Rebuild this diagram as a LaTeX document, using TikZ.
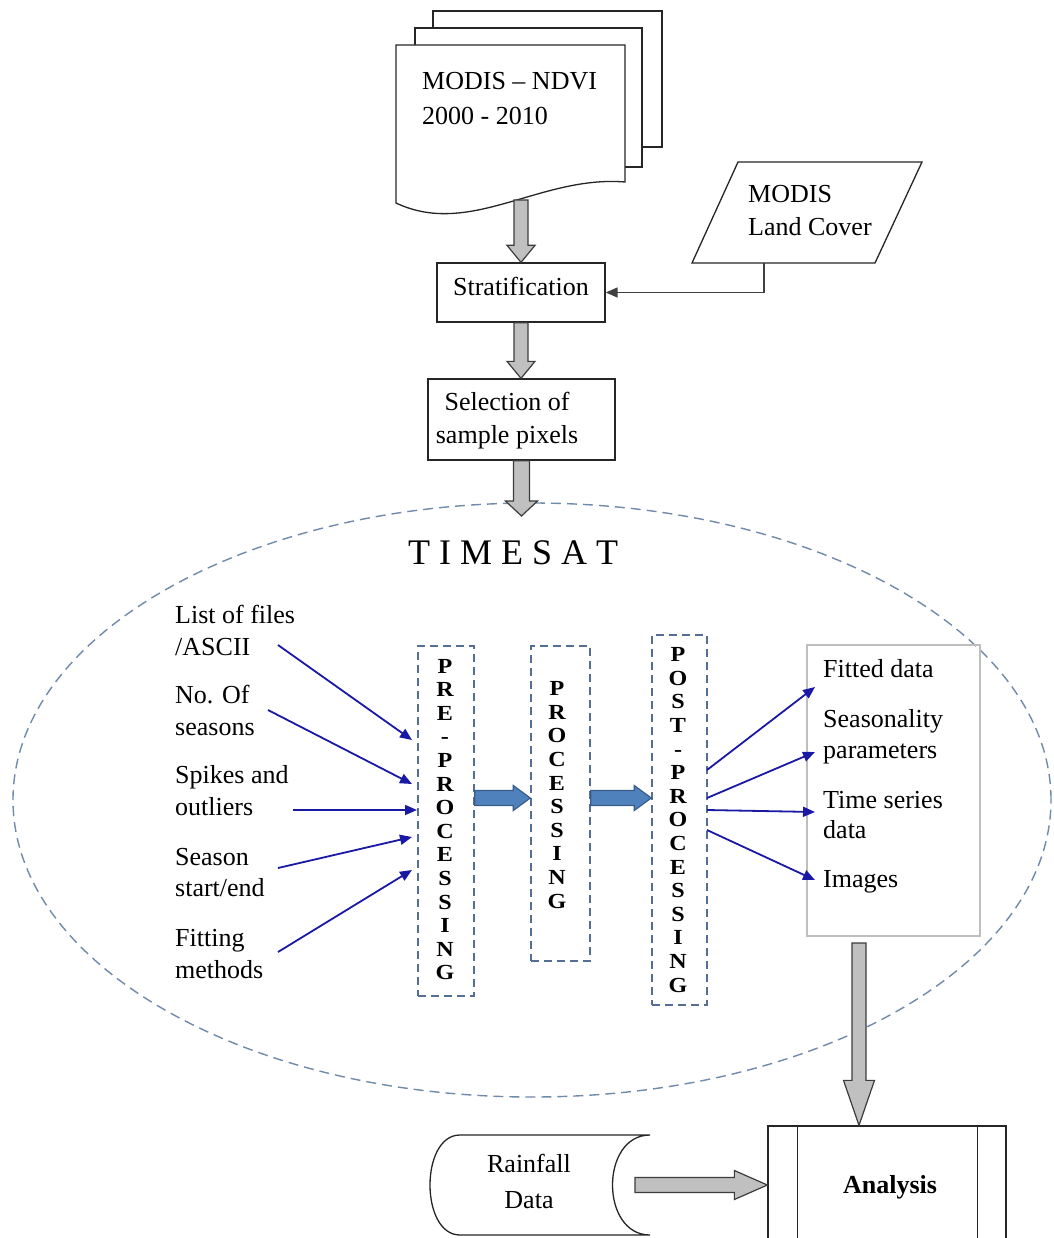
\documentclass[tikz,border=0pt]{standalone}
\usepackage{fontspec}
\setmainfont{Liberation Serif}
\newfontfamily\vfont[FakeStretch=1.12]{Liberation Serif}
\usetikzlibrary{arrows.meta,calc}
\definecolor{dashc}{RGB}{84,110,150}
\definecolor{ellc}{RGB}{112,138,172}
\definecolor{inblue}{RGB}{25,25,165}
\definecolor{bfill}{RGB}{79,129,189}
\definecolor{bdraw}{RGB}{56,93,138}
\definecolor{gfill}{RGB}{192,192,192}
\definecolor{gdraw}{RGB}{60,60,60}
\definecolor{obox}{RGB}{190,190,190}
\tikzset{
  txt/.style={inner sep=0pt, anchor=base west, font=\fontsize{26}{31}\selectfont},
  txtc/.style={inner sep=0pt, anchor=base, font=\fontsize{26}{31}\selectfont},
  vert/.style={inner sep=0pt, align=center, font=\vfont\fontsize{21.5}{23.6}\selectfont\bfseries},
  dbox/.style={draw=dashc, line width=1.5pt, dash pattern=on 8pt off 5pt, inner sep=0pt},
  boxst/.style={draw=black!85, line width=1.3pt, inner sep=0pt},
  docline/.style={draw=black!85, line width=1.3pt, fill=white},
  conn/.style={draw=black!75, line width=1.4pt, -{Triangle[length=12pt,width=10pt]}},
  inarrow/.style={draw=inblue, line width=1.8pt, -{Triangle[length=12pt,width=10pt]}},
  gblock/.style={draw=gdraw, fill=gfill, line width=1.2pt},
  bblock/.style={draw=bdraw, fill=bfill, line width=1.2pt},
  gdown/.style n args={3}{to path={let \p1=(\tikztostart), \p2=(\tikztotarget) in
    (\x1-#1,\y1) -- (\x1-#1,\y2+#3) -- (\x1-#2,\y2+#3) -- (\x1,\y2) -- (\x1+#2,\y2+#3) -- (\x1+#1,\y2+#3) -- (\x1+#1,\y1) -- cycle}},
  gright/.style n args={3}{to path={let \p1=(\tikztostart), \p2=(\tikztotarget) in
    (\x1,\y1+#1) -- (\x2-#3,\y1+#1) -- (\x2-#3,\y1+#2) -- (\x2,\y1) -- (\x2-#3,\y1-#2) -- (\x2-#3,\y1-#1) -- (\x1,\y1-#1) -- cycle}},
}
\begin{document}
\begin{tikzpicture}[x=1pt,y=-1pt,line join=miter]
\clip (0,0) rectangle (1053,1238);
\fill[white] (0,0) rectangle (1053,1238);

% TIMESAT ellipse
\draw[draw=ellc, line width=1.4pt, dash pattern=on 10pt off 6pt] (532,800) ellipse [x radius=519pt, y radius=297pt];

% MODIS-NDVI document stack
\draw[docline] (433,11) rectangle (662,147);
\draw[docline] (415,28) rectangle (642,167);
\draw[docline] (396,45) -- (625,45) -- (625,182) .. controls (540,175) and (470,238) .. (396,203) -- cycle;
\coordinate (docbot) at (521,200);
\node[txt] (ndvi1) at (422,90) {MODIS – NDVI};
\node[txt] (ndvi2) at (422,125) {2000 - 2010};

% MODIS Land Cover
\draw[docline] (738,162) -- (922,162) -- (875,263) -- (692,263) -- cycle;
\node[txt] (lc1) at (748,203) {MODIS};
\node[txt] (lc2) at (748,236) {Land Cover};
\coordinate (lcb) at (764,263);

% Stratification
\node[boxst, minimum width=168pt, minimum height=59pt] (strat) at (521,292.5) {};
\node[txtc] (stratlbl) at (521,295) {Stratification};
\draw[conn] (lcb) |- (strat.east);

% Selection
\node[boxst, minimum width=187pt, minimum height=81pt] (sel) at (521.5,419.5) {};
\node[txtc] (sel1) at (507,410) {Selection of};
\node[txtc] (sel2) at (507,443) {sample pixels};

% gray arrows at top
\draw[gblock, gdown={7pt}{14pt}{17pt}] (docbot) to (strat.north);
\draw[gblock, gdown={7pt}{14pt}{17pt}] (strat.south) to (sel.north);
\coordinate (tstop) at (521.5,516);
\draw[gblock, gdown={8pt}{16pt}{15pt}] (sel.south) to (tstop);

% TIMESAT title
\node[inner sep=0pt, anchor=base west, font=\fontsize{36}{40}\selectfont] (timesat) at (408,564) {T I M E S A T};

% input labels
\node[txt] (l1a) at (175,623) {List of files};
\node[txt] (l1b) at (175,655) {/ASCII};
\node[txt] (l2a) at (175,703) {No. Of};
\node[txt] (l2b) at (175,735) {seasons};
\node[txt] (l3a) at (175,783) {Spikes and};
\node[txt] (l3b) at (175,815) {outliers};
\node[txt] (l4a) at (175,865) {Season};
\node[txt] (l4b) at (175,896) {start/end};
\node[txt] (l5a) at (175,946) {Fitting};
\node[txt] (l5b) at (175,978) {methods};

% processing boxes
\node[dbox, minimum width=56pt, minimum height=350pt] (pre) at (446,821) {};
\node[vert] (pretxt) at (445,819.5) {P\\R\\E\\-\\P\\R\\O\\C\\E\\S\\S\\I\\N\\G};
\node[dbox, minimum width=59pt, minimum height=315pt] (proc) at (560.5,803.5) {};
\node[vert] (proctxt) at (557,795) {P\\R\\O\\C\\E\\S\\S\\I\\N\\G};
\node[dbox, minimum width=55pt, minimum height=370pt] (post) at (679.5,820) {};
\node[vert] (posttxt) at (678,820) {P\\O\\S\\T\\-\\P\\R\\O\\C\\E\\S\\S\\I\\N\\G};

% input arrows
\coordinate (i1) at (278,645); \coordinate (e1) at (412,740);
\coordinate (i2) at (268,710); \coordinate (e2) at (412,784);
\coordinate (i3) at (293,810); \coordinate (e3) at (417,810);
\coordinate (i4) at (278,868); \coordinate (e4) at (412,837);
\coordinate (i5) at (278,952); \coordinate (e5) at (412,870);
\foreach \k in {1,...,5} \draw[inarrow] (i\k) -- (e\k);

% blue block arrows
\coordinate (row) at (0,798);
\draw[bblock, gright={7.5pt}{12.5pt}{17pt}] (pre.east |- row) to (proc.west |- row);
\draw[bblock, gright={7.5pt}{12.5pt}{17pt}] (proc.east |- row) to (post.west |- row);

% outputs box
\node[draw=obox, line width=1.2pt, minimum width=173pt, minimum height=291pt, inner sep=0pt] (outbox) at (893.5,790.5) {};
\node[txt] (o1) at (823,677) {Fitted data};
\node[txt] (o2a) at (823,727) {Seasonality};
\node[txt] (o2b) at (823,758) {parameters};
\node[txt] (o3a) at (823,808) {Time series};
\node[txt] (o3b) at (823,838) {data};
\node[txt] (o4) at (823,887) {Images};

% output arrows
\coordinate (p1) at (707,770); \coordinate (f1) at (815,687);
\coordinate (p2) at (707,798); \coordinate (f2) at (815,752);
\coordinate (p3) at (707,810); \coordinate (f3) at (815,812);
\coordinate (p4) at (707,830); \coordinate (f4) at (815,880);
\foreach \k in {1,...,4} \draw[inarrow] (p\k) -- (f\k);

% Analysis
\node[boxst, minimum width=238pt, minimum height=130pt] (analysis) at (887,1191) {};
\draw[draw=black!85, line width=1.3pt] ([xshift=30pt]analysis.north west) -- ([xshift=30pt]analysis.south west);
\draw[draw=black!85, line width=1.3pt] ([xshift=-29pt]analysis.north east) -- ([xshift=-29pt]analysis.south east);
\node[inner sep=0pt, anchor=base, font=\fontsize{26}{31}\selectfont\bfseries] (anlbl) at (890,1193) {Analysis};

\coordinate (ax) at (859,0);
\coordinate (obs) at (859,943);
\draw[gblock, gdown={7pt}{15.5pt}{45pt}] (obs) to (analysis.north -| ax);

% Rainfall data
\draw[docline] (650,1135) -- (460,1135) .. controls (420,1135) and (420,1235) .. (460,1235) -- (650,1235) .. controls (600,1235) and (600,1135) .. (650,1135) -- cycle;
\node[txtc] (rf1) at (529,1172) {Rainfall};
\node[txtc] (rf2) at (529,1208) {Data};
\coordinate (rainr) at (635,1185);
\draw[gblock, gright={7.5pt}{14.5pt}{33pt}] (rainr) to (analysis.west |- rainr);
\end{tikzpicture}
\end{document}
